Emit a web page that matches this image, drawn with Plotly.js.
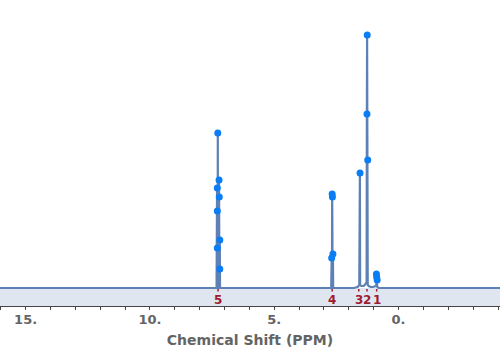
<!DOCTYPE html>
<html>
<head>
<meta charset="utf-8">
<script src="https://cdn.plot.ly/plotly-3.0.1.min.js"></script>
<style>html,body{margin:0;padding:0;background:#fff;}#chart{width:500px;height:352px;}</style>
</head>
<body>
<div id="chart"></div>
<script>
// Spectrum line (ppm, intensity)
var specX = [16.03, 12.0, 9.0, 7.32, 7.30, 7.295, 7.29, 7.285, 7.29, 7.275, 7.27, 7.265, 7.23, 7.22, 7.215, 7.21, 7.205, 7.195, 7.19, 7.185, 7.19, 7.18, 7.0, 4.0,
             2.71, 2.69, 2.68, 2.67, 2.665, 2.66, 2.65, 2.64, 2.63, 2.2, 1.80, 1.65, 1.58, 1.555, 1.55, 1.545, 1.50, 1.40, 1.33, 1.285, 1.275, 1.27, 1.265, 1.26, 1.255, 1.245, 1.24, 1.235, 1.20, 1.12, 1.02, 0.92, 0.895, 0.89, 0.885, 0.88, 0.875, 0.865, 0.86, 0.855, 0.80, -1.0, -4.08];
var specY = [0, 0, 0, 0, 100, 0, 40, 0, 77, 0, 155, 0, 0, 108, 0, 91, 0, 0, 48, 0, 19, 0, 0, 0,
             0, 30, 0, 94, 0, 91, 0, 34, 0, 0, 0, 1, 3, 115, 4, 3, 2, 2, 4, 6, 174, 6, 253, 6, 8, 128, 5, 3, 2, 1, 1, 2, 3, 14, 3, 11, 3, 8, 2, 1, 0, 0, 0];
// Peak-top markers
var peakX = [7.27, 7.22, 7.29, 7.21, 7.29, 7.19, 7.29, 7.19, 2.67, 2.66, 2.64, 2.69, 1.55, 1.26, 1.27, 1.24, 0.89, 0.88, 0.86];
var peakY = [155, 108, 100, 91, 77, 48, 40, 19, 94, 91, 34, 30, 115, 253, 174, 128, 14, 11, 8];
// Peak labels
var labelText = ["5", "4", "3", "2", "1"];
var labelX = [7.26, 2.67, 1.60, 1.27, 0.88];
var tickVals = [15, 10, 5, 0];
var tickText = ["15.", "10.", "5.", "0."];

var lineColor = "rgb(94,129,181)";
var labelColor = "rgb(158,28,46)";

var traces = [
  {x: specX, y: specY, mode: "lines", type: "scatter", line: {color: lineColor, width: 2.2}, hoverinfo: "skip"},
  {x: peakX, y: peakY, mode: "markers", type: "scatter", marker: {color: "rgb(10,125,245)", size: 7}}
];

var annotations = labelText.map(function (t, i) {
  return {x: labelX[i], y: -1, xref: "x", yref: "y", text: t, showarrow: true,
    arrowhead: 0, arrowwidth: 1.5, arrowcolor: labelColor, ax: 0, ay: 11,
    font: {family: "DejaVu Sans", size: 12, color: labelColor, weight: "bold"}};
});

var layout = {
  width: 500, height: 352,
  margin: {l: 0, r: 0, t: 0, b: 46},
  paper_bgcolor: "#fff", plot_bgcolor: "#fff",
  showlegend: false,
  xaxis: {
    range: [16.03, -4.08], showgrid: false, zeroline: false,
    showline: true, linecolor: "rgb(70,70,70)", linewidth: 1,
    ticks: "outside", ticklen: 3, tickcolor: "rgb(70,70,70)",
    tickvals: tickVals, ticktext: tickText, ticklabelstandoff: -2,
    tickfont: {family: "DejaVu Sans", size: 13, color: "rgb(100,100,100)", weight: "bold"},
    minor: {dtick: 1, ticks: "outside", ticklen: 3, tickcolor: "rgb(70,70,70)", showgrid: false},
    title: {text: "Chemical Shift (PPM)", standoff: 9,
      font: {family: "DejaVu Sans", size: 14, color: "rgb(100,100,100)", weight: "bold"}}
  },
  yaxis: {range: [-18, 288], visible: false, fixedrange: true},
  shapes: [{type: "rect", xref: "paper", yref: "y", x0: 0, x1: 1, y0: -18, y1: 0,
    fillcolor: "rgba(94,129,181,0.2)", line: {width: 0}, layer: "below"}],
  annotations: annotations
};

Plotly.newPlot("chart", traces, layout, {displayModeBar: false, staticPlot: true});
</script>
</body>
</html>
